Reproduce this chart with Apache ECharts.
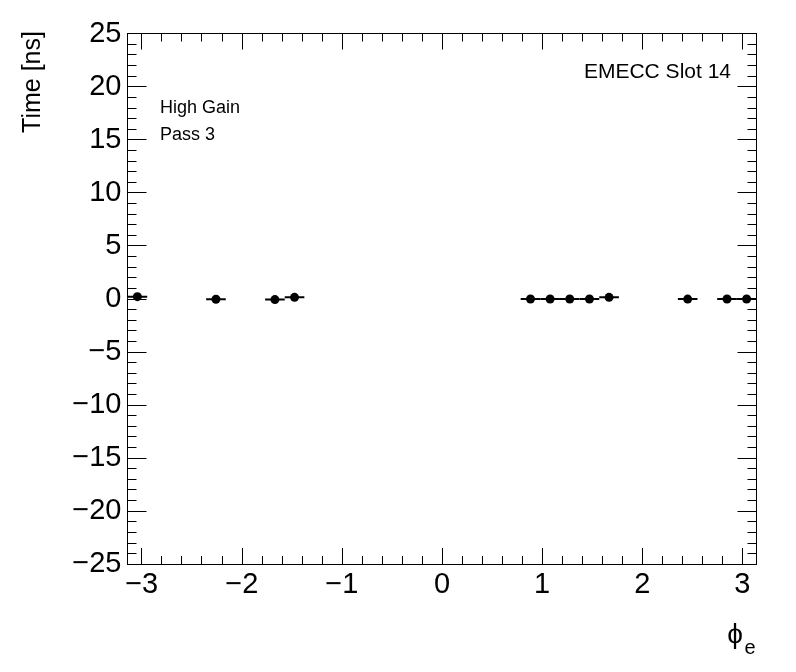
<!DOCTYPE html>
<html>
<head>
<meta charset="utf-8">
<script src="https://cdn.jsdelivr.net/npm/echarts@6/dist/echarts.min.js"></script>
<style>
html,body{margin:0;padding:0;background:#fff;}
#chart{width:796px;height:672px;}
</style>
</head>
<body>
<div id="chart"></div>
<script>
// ---- data ----
const phiCenters   = [-3.043, -2.258, -1.669, -1.473, 0.884, 1.080, 1.276, 1.473, 1.669, 2.454, 2.847, 3.043];
const timeValues   = [0.20, -0.05, -0.08, 0.13, -0.02, -0.02, -0.02, -0.02, 0.13, -0.03, -0.02, -0.02];
const phiHalfWidth = [0.098, 0.098, 0.098, 0.098, 0.098, 0.098, 0.098, 0.098, 0.098, 0.098, 0.098, 0.098];
const xMajorTicks  = [-3, -2, -1, 0, 1, 2, 3];
const yMajorTicks  = [-25, -20, -15, -10, -5, 0, 5, 10, 15, 20, 25];
const xTitle = '\u03D5';
const xTitleSub = 'e';
const yTitle = 'Time [ns]';
const label1 = 'High Gain';
const label2 = 'Pass 3';
const label3 = 'EMECC Slot 14';

const xMinorTicks = [];
for (let i = -15; i <= 15; i++) { if (i % 5 !== 0) xMinorTicks.push(i / 5); }

const FONT = '"Liberation Sans", Arial, Helvetica, sans-serif';
const fmt = v => String(Math.round(v)).replace('-', '\u2212');
const XMIN = -Math.PI, XMAX = Math.PI;

const black = '#000';
function xAx(pos, showLine, ticks, len, labels) {
  return {
    type: 'value', position: pos, min: XMIN, max: XMAX,
    axisLine: { show: showLine, onZero: false, lineStyle: { color: black, width: 1 } },
    axisTick: { show: true, inside: true, length: len, customValues: ticks, lineStyle: { color: black, width: 1 } },
    axisLabel: labels ? { show: true, customValues: ticks, formatter: fmt, color: black, fontSize: 29, fontFamily: FONT, margin: 6 } : { show: false },
    splitLine: { show: false }
  };
}
function yAx(pos, labels) {
  return {
    type: 'value', position: pos, min: -25, max: 25, interval: 5,
    axisLine: { show: true, onZero: false, lineStyle: { color: black, width: 1 } },
    axisTick: { show: true, inside: true, length: 19, lineStyle: { color: black, width: 1 } },
    minorTick: { show: true, splitNumber: 5, length: 9, lineStyle: { color: black, width: 1 } },
    axisLabel: labels ? { show: true, formatter: fmt, color: black, fontSize: 29, fontFamily: FONT, margin: 6 } : { show: false },
    splitLine: { show: false }, minorSplitLine: { show: false }
  };
}

const chart = echarts.init(document.getElementById('chart'), null, { renderer: 'canvas' });
const errData = phiCenters.map((x, i) => [x, timeValues[i], phiHalfWidth[i]]);
const ptData = phiCenters.map((x, i) => [x, timeValues[i]]);

chart.setOption({
  animation: false,
  backgroundColor: '#fff',
  grid: { left: 127.5, right: 39.5, top: 33.5, bottom: 108, containLabel: false },
  xAxis: [
    xAx('bottom', true, xMajorTicks, 16, true),
    xAx('bottom', false, xMinorTicks, 8, false),
    xAx('top', true, xMajorTicks, 16, false),
    xAx('top', false, xMinorTicks, 8, false)
  ],
  yAxis: [yAx('left', true), yAx('right', false)],
  series: [
    {
      type: 'custom', xAxisIndex: 0, yAxisIndex: 0, clip: true,
      data: errData,
      renderItem: function (params, api) {
        const x = api.value(0), y = api.value(1), hw = api.value(2);
        const p1 = api.coord([x - hw, y]);
        const p2 = api.coord([x + hw, y]);
        return { type: 'line', shape: { x1: p1[0], y1: p1[1], x2: p2[0], y2: p2[1] }, style: { stroke: black, lineWidth: 2 } };
      }
    },
    {
      type: 'scatter', xAxisIndex: 0, yAxisIndex: 0,
      data: ptData, symbol: 'circle', symbolSize: 9,
      itemStyle: { color: black, opacity: 1 }
    }
  ],
  graphic: [
    { type: 'text', x: 33, y: 82, rotation: Math.PI / 2,
      style: { text: yTitle, fill: black, font: '25px ' + FONT, align: 'center', verticalAlign: 'middle' } },
    { type: 'text', x: 743, y: 635,
      style: { text: xTitle, fill: black, font: '28px ' + FONT, align: 'right', verticalAlign: 'middle' } },
    { type: 'text', x: 744.5, y: 648,
      style: { text: xTitleSub, fill: black, font: '20px ' + FONT, align: 'left', verticalAlign: 'middle' } },
    { type: 'text', x: 160, y: 108,
      style: { text: label1, fill: black, font: '18px ' + FONT, align: 'left', verticalAlign: 'middle' } },
    { type: 'text', x: 160, y: 135,
      style: { text: label2, fill: black, font: '18px ' + FONT, align: 'left', verticalAlign: 'middle' } },
    { type: 'text', x: 731, y: 72,
      style: { text: label3, fill: black, font: '21px ' + FONT, align: 'right', verticalAlign: 'middle' } }
  ]
});
</script>
</body>
</html>
